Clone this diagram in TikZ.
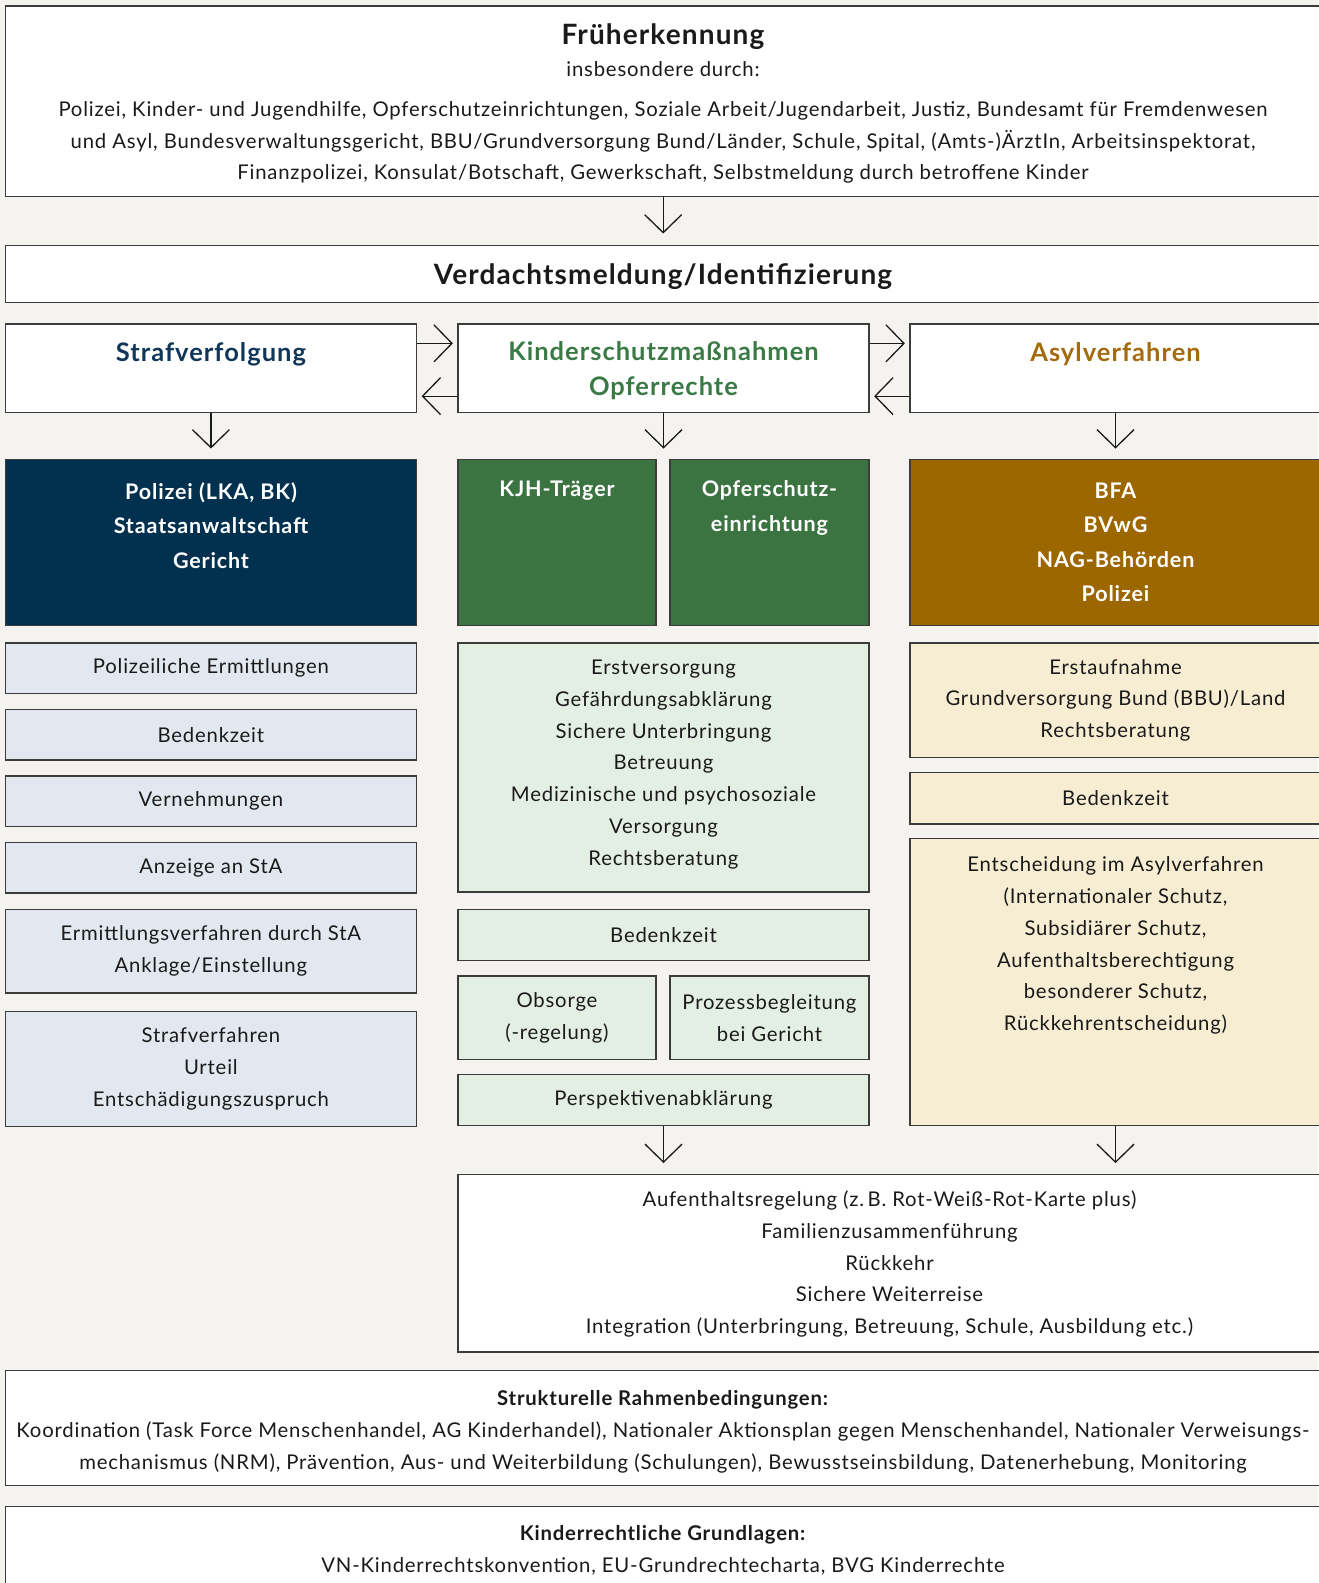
\documentclass[tikz,border=0pt]{standalone}
\usepackage{fontspec}
\setmainfont{Lato}[LetterSpace=4]
\usetikzlibrary{arrows.meta,fit,calc}
\definecolor{bg}{HTML}{F4F3EF}
\definecolor{bord}{HTML}{3C3C3C}
\definecolor{ink}{HTML}{1A1A1A}
\definecolor{dblue}{HTML}{02304F}
\definecolor{dgreen}{HTML}{3B7341}
\definecolor{dbrown}{HTML}{9D6700}
\definecolor{lblue}{HTML}{E1E8F0}
\definecolor{lgreen}{HTML}{E4EFE3}
\definecolor{lbeige}{HTML}{F6EDD3}
\definecolor{hblue}{HTML}{10375A}
\definecolor{hgreen}{HTML}{3A7A45}
\definecolor{hbrown}{HTML}{A36A0E}
\newcommand\bodyfs{\fontsize{20.3}{31.8}\selectfont}
\newcommand\headfs{\fontsize{21.5}{34.5}\selectfont\bfseries}
\newcommand\catfs{\fontsize{25.5}{35}\selectfont\bfseries}
\newcommand\bigfs{\fontsize{28}{34}\selectfont\bfseries}
\begin{document}
\begin{tikzpicture}[x=1pt,y=-1pt,
  box/.style={draw=bord, line width=1.3pt, inner sep=0pt},
  txt/.style={align=center, font=\bodyfs, text=ink, inner sep=0pt},
  wtxt/.style={align=center, font=\headfs, text=white, inner sep=0pt},
  arr/.style={draw=ink, line width=1.3pt, -{Straight Barb[length=18pt,width=37pt]}}]
\useasboundingbox (0,0) rectangle (1318,1583);
\fill[bg] (0,0) rectangle (1318,1583);

% top
\node[box, fill=white, fit={(5.3,6)(1321,196.8)}] (frueh) {};
\node[txt, font=\bigfs] (fruehT) at (663,37) {Früherkennung};
\node[txt] (fruehS) at (663,69.5) {insbesondere durch:};
\node[txt] (fruehL) at (663,142.5) {Polizei, Kinder- und Jugendhilfe, Opferschutzeinrichtungen, Soziale Arbeit/Jugendarbeit, Justiz, Bundesamt für Fremdenwesen\\
und Asyl, Bundesverwaltungsgericht, BBU/Grundversorgung Bund/Länder, Schule, Spital, (Amts-)ÄrztIn, Arbeitsinspektorat,\\
Finanzpolizei, Konsulat/Botschaft, Gewerkschaft, Selbstmeldung durch betroffene Kinder};

\node[box, fill=white, fit={(5.3,245.2)(1321,302.8)}] (verd) {};
\node[txt, font=\bigfs] (verdT) at (663,276.5) {Verdachtsmeldung/Identifizierung};

% categories
\node[box, fill=white, fit={(5.3,324)(416.5,412.8)}] (straf) {};
\node[box, fill=white, fit={(458,324)(869,412.8)}] (kinder) {};
\node[box, fill=white, fit={(910,324)(1321,412.8)}] (asyl) {};
\node[txt, font=\catfs, text=hblue] (strafT) at (211,354) {Strafverfolgung};
\node[txt, font=\catfs, text=hgreen] (kinderT) at (663.5,370.5) {Kinderschutzmaßnahmen\\Opferrechte};
\node[txt, font=\catfs, text=hbrown] (asylT) at (1115.5,354) {Asylverfahren};

% institutions
\node[box, fill=dblue, fit={(5.3,459.2)(416.5,625.7)}] (pol) {};
\node[box, fill=dgreen, fit={(458,459.2)(656,625.7)}] (kjh) {};
\node[box, fill=dgreen, fit={(670,459.2)(869,625.7)}] (opf) {};
\node[box, fill=dbrown, fit={(910,459.2)(1321,625.7)}] (bfa) {};
\node[wtxt] (polT) at (211,525.3) {Polizei (LKA, BK)\\Staatsanwaltschaft\\Gericht};
\node[wtxt] (kjhT) at (557,491) {KJH-Träger};
\node[wtxt] (opfT) at (769.5,508) {Opferschutz-\\einrichtung};
\node[wtxt] (bfaT) at (1115.5,542.5) {BFA\\BVwG\\NAG-Behörden\\Polizei};

% left column
\node[box, fill=lblue, fit={(5.3,642.9)(416.5,693.3)}] (l1) {};
\node[txt] at (l1.center) {Polizeiliche Ermittlungen};
\node[box, fill=lblue, fit={(5.3,709.5)(416.5,760)}] (l2) {};
\node[txt] at (l2.center) {Bedenkzeit};
\node[box, fill=lblue, fit={(5.3,776)(416.5,826.5)}] (l3) {};
\node[txt] at (l3.center) {Vernehmungen};
\node[box, fill=lblue, fit={(5.3,842.7)(416.5,893)}] (l4) {};
\node[txt] at (l4.center) {Anzeige an StA};
\node[box, fill=lblue, fit={(5.3,909.3)(416.5,993)}] (l5) {};
\node[txt] at (l5.center) {Ermittlungsverfahren durch StA\\Anklage/Einstellung};
\node[box, fill=lblue, fit={(5.3,1011.2)(416.5,1126.3)}] (l6) {};
\node[txt] at (l6.center) {Strafverfahren\\Urteil\\Entschädigungszuspruch};

% middle column
\node[box, fill=lgreen, fit={(458,642.9)(869,892.1)}] (m1) {};
\node[txt] at ($(m1.center)+(0,-3)$) {Erstversorgung\\Gefährdungsabklärung\\Sichere Unterbringung\\Betreuung\\Medizinische und psychosoziale\\Versorgung\\Rechtsberatung};
\node[box, fill=lgreen, fit={(458,909.3)(869,960.8)}] (m2) {};
\node[txt] at (m2.center) {Bedenkzeit};
\node[box, fill=lgreen, fit={(458,975.9)(656,1059.7)}] (m3) {};
\node[txt] at (m3.center) {Obsorge\\(-regelung)};
\node[box, fill=lgreen, fit={(670,975.9)(869,1059.7)}] (m4) {};
\node[txt] at (m4.center) {Prozessbegleitung\\bei Gericht};
\node[box, fill=lgreen, fit={(458,1074.8)(869,1125.3)}] (persp) {};
\node[txt] at (persp.center) {Perspektivenabklärung};

% right column
\node[box, fill=lbeige, fit={(910,642.9)(1321,757.7)}] (r1) {};
\node[txt] at (r1.center) {Erstaufnahme\\Grundversorgung Bund (BBU)/Land\\Rechtsberatung};
\node[box, fill=lbeige, fit={(910,772.3)(1321,824)}] (r2) {};
\node[txt] at (r2.center) {Bedenkzeit};
\node[box, fill=lbeige, fit={(910,838.6)(1321,1125.3)}] (entsch) {};
\node[txt] at (1115.5,945.5) {Entscheidung im Asylverfahren\\(Internationaler Schutz,\\Subsidiärer Schutz,\\Aufenthaltsberechtigung\\besonderer Schutz,\\Rückkehrentscheidung)};

% outcome
\node[box, fill=white, fit={(458,1174.7)(1321,1352)}] (aufent) {};
\node[txt] at (889.5,1264) {Aufenthaltsregelung (z.\,B. Rot-Weiß-Rot-Karte plus)\\Familienzusammenführung\\Rückkehr\\Sichere Weiterreise\\Integration (Unterbringung, Betreuung, Schule, Ausbildung etc.)};

% frame conditions
\node[box, fill=white, fit={(5.3,1370.5)(1321,1485.6)}] (strukt) {};
\node[txt] at (663,1432) {\textbf{Strukturelle Rahmenbedingungen:}\\Koordination (Task Force Menschenhandel, AG Kinderhandel), Nationaler Aktionsplan gegen Menschenhandel, Nationaler Verweisungs-\\mechanismus (NRM), Prävention, Aus- und Weiterbildung (Schulungen), Bewusstseinsbildung, Datenerhebung, Monitoring};
\node[box, fill=white, fit={(5.3,1506.7)(1321,1600)}] (krecht) {};
\node[txt] at (663,1550) {\textbf{Kinderrechtliche Grundlagen:}\\VN-Kinderrechtskonvention, EU-Grundrechtecharta, BVG Kinderrechte};

% arrows
\draw[arr, shorten >=11pt] (frueh.south) -- (verd.north);
\draw[arr, shorten >=4.5pt] ([yshift=-20pt]straf.north east) -- ([yshift=-20pt]kinder.north west);
\draw[arr, shorten >=4.5pt] ([yshift=17.3pt]kinder.south west) -- ([yshift=17.3pt]straf.south east);
\draw[arr, shorten >=4.5pt] ([yshift=-20pt]kinder.north east) -- ([yshift=-20pt]asyl.north west);
\draw[arr, shorten >=4.5pt] ([yshift=17.3pt]asyl.south west) -- ([yshift=17.3pt]kinder.south east);
\draw[arr, shorten >=10pt] (straf.south) -- (pol.north);
\draw[arr, shorten >=10pt] (kinder.south) -- (kinder.south |- kjh.north);
\draw[arr, shorten >=10pt] (asyl.south) -- (bfa.north);
\draw[arr, shorten >=11pt] (persp.south) -- (persp.south |- aufent.north);
\draw[arr, shorten >=11pt] (entsch.south) -- (entsch.south |- aufent.north);
\end{tikzpicture}
\end{document}
